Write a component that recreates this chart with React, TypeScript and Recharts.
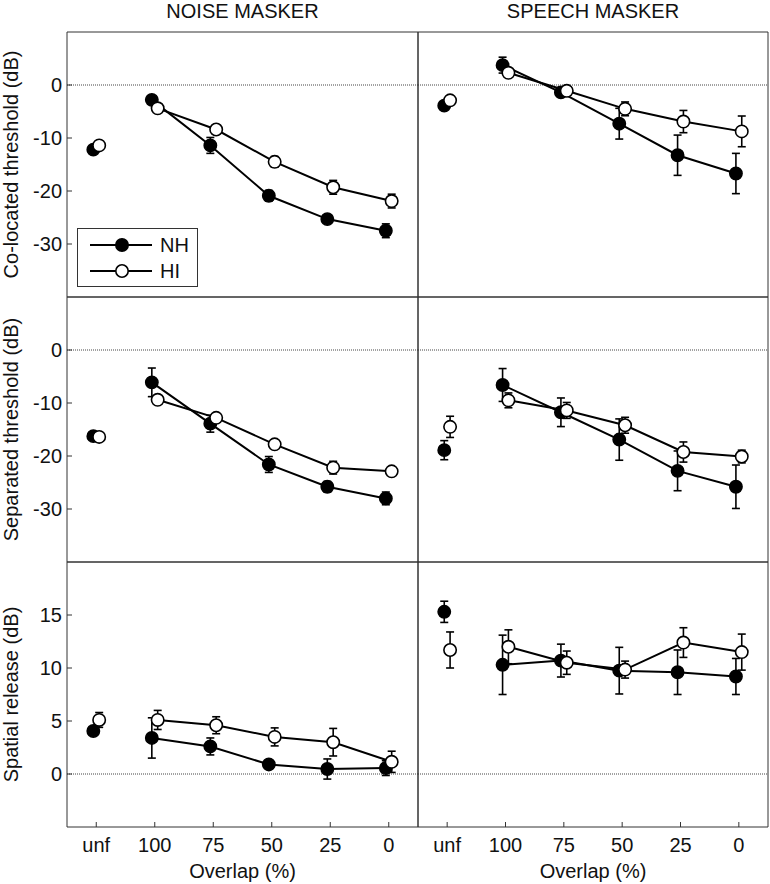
import React from 'react';
import { ScatterChart, Scatter, XAxis, YAxis, ReferenceLine, ErrorBar, Legend, Label } from 'recharts';

const FONT = '"Liberation Sans", Arial, Helvetica, sans-serif';
const W = 770;
const H = 884;

// ---------- categories / ticks / labels ----------
const categories = ['unf', '100', '75', '50', '25', '0'];
const xTicks = [0, 1, 2, 3, 4, 5];
const seriesNames = ['NH', 'HI'];
const columnTitles = ['NOISE MASKER', 'SPEECH MASKER'];
const rowLabels = ['Co-located threshold (dB)', 'Separated threshold (dB)', 'Spatial release (dB)'];
const xAxisTitle = 'Overlap (%)';
const thresholdTicks = [-30, -20, -10, 0];
const releaseTicks = [0, 5, 10, 15];

// ---------- data (order: unf, 100, 75, 50, 25, 0) ----------
// Noise masker, co-located
const noiseColNH = [-12.2, -2.8, -11.4, -20.9, -25.3, -27.5];
const noiseColNHErr = [0.4, 0.5, 1.5, 1.0, 0.7, 1.3];
const noiseColHI = [-11.4, -4.4, -8.4, -14.5, -19.3, -21.9];
const noiseColHIErr = [0.4, 0.5, 0.8, 1.0, 1.3, 1.3];
// Speech masker, co-located
const speechColNH = [-3.9, 3.75, -1.4, -7.3, -13.25, -16.7];
const speechColNHErr = [0.4, 1.5, 0.8, 2.9, 3.8, 3.8];
const speechColHI = [-2.9, 2.3, -1.1, -4.5, -6.9, -8.75];
const speechColHIErr = [0.4, 0.5, 0.6, 1.3, 2.1, 2.9];
// Noise masker, separated
const noiseSepNH = [-16.25, -6.1, -13.9, -21.6, -25.8, -28.0];
const noiseSepNHErr = [0.4, 2.7, 1.6, 1.5, 1.0, 1.2];
const noiseSepHI = [-16.4, -9.4, -12.8, -17.8, -22.2, -22.9];
const noiseSepHIErr = [0.4, 0.5, 0.6, 0.6, 1.2, 0.5];
// Speech masker, separated
const speechSepNH = [-18.9, -6.6, -11.75, -16.9, -22.8, -25.8];
const speechSepNHErr = [1.8, 3.1, 2.7, 3.9, 3.75, 4.1];
const speechSepHI = [-14.5, -9.5, -11.4, -14.2, -19.25, -20.1];
const speechSepHIErr = [2.0, 1.4, 1.5, 1.5, 1.9, 1.2];
// Noise masker, spatial release
const noiseRelNH = [4.06, 3.4, 2.6, 0.9, 0.47, 0.56];
const noiseRelNHErr = [0.3, 1.9, 0.8, 0.4, 0.95, 0.7];
const noiseRelHI = [5.1, 5.1, 4.6, 3.5, 3.0, 1.15];
const noiseRelHIErr = [0.7, 0.9, 0.8, 0.85, 1.3, 1.0];
// Speech masker, spatial release
const speechRelNH = [15.3, 10.3, 10.7, 9.75, 9.6, 9.2];
const speechRelNHErr = [1.0, 2.8, 1.55, 2.2, 2.1, 1.7];
const speechRelHI = [11.7, 12.0, 10.5, 9.85, 12.4, 11.5];
const speechRelHIErr = [1.7, 1.6, 1.1, 0.8, 1.4, 1.7];

// ---------- layout ----------
const COLS: [number, number][] = [[67, 418], [418, 768]];
const ROWS: [number, number][] = [[32, 297], [297, 562], [562, 827]];
const OFFSET = 0.05;

type PanelData = { nh: number[]; nhErr: number[]; hi: number[]; hiErr: number[] };
const panels: PanelData[][] = [
  [
    { nh: noiseColNH, nhErr: noiseColNHErr, hi: noiseColHI, hiErr: noiseColHIErr },
    { nh: speechColNH, nhErr: speechColNHErr, hi: speechColHI, hiErr: speechColHIErr },
  ],
  [
    { nh: noiseSepNH, nhErr: noiseSepNHErr, hi: noiseSepHI, hiErr: noiseSepHIErr },
    { nh: speechSepNH, nhErr: speechSepNHErr, hi: speechSepHI, hiErr: speechSepHIErr },
  ],
  [
    { nh: noiseRelNH, nhErr: noiseRelNHErr, hi: noiseRelHI, hiErr: noiseRelHIErr },
    { nh: speechRelNH, nhErr: speechRelNHErr, hi: speechRelHI, hiErr: speechRelHIErr },
  ],
];

const toPoints = (vals: number[], errs: number[], off: number, from: number, to: number) =>
  vals.slice(from, to).map((v, k) => ({ x: from + k + off, y: v, e: errs[from + k] }));

const filledDot = (p: any) => (
  <circle cx={p.cx} cy={p.cy} r={6.2} fill="#000" stroke="#000" strokeWidth={1.5} />
);
const openDot = (p: any) => (
  <circle cx={p.cx} cy={p.cy} r={6.2} fill="#fff" stroke="#000" strokeWidth={1.6} />
);

const RotatedLabel = (props: any) => {
  const vb = props.viewBox || { x: 66, y: 0, width: 1, height: 0 };
  const cx = vb.x - 55;
  const cy = vb.y + vb.height / 2;
  return (
    <text
      x={cx}
      y={cy}
      transform={`rotate(-90, ${cx}, ${cy})`}
      textAnchor="middle"
      dominantBaseline="central"
      fontSize={20}
      fontFamily={FONT}
      fill="#111"
    >
      {props.value}
    </text>
  );
};

const LegendBox = () => (
  <svg width={122} height={60} style={{ display: 'block' }}>
    <rect x={0.5} y={0.5} width={120} height={58} fill="#fff" stroke="#333" strokeWidth={1} />
    {seriesNames.map((name, i) => {
      const cy = 17 + i * 26;
      return (
        <g key={name}>
          <line x1={13} x2={75} y1={cy} y2={cy} stroke="#000" strokeWidth={1.8} />
          <circle cx={45} cy={cy} r={6.2} fill={i === 0 ? '#000' : '#fff'} stroke="#000" strokeWidth={1.6} />
          <text x={83} y={cy + 7} fontSize={20} fontFamily={FONT} fill="#111">
            {name}
          </text>
        </g>
      );
    })}
  </svg>
);

const tickStyle = { fontSize: 20, fill: '#111', fontFamily: FONT };

function Panel({ row, col }: { row: number; col: number }) {
  const [x0, x1] = COLS[col];
  const [y0, y1] = ROWS[row];
  const isBottom = row === 2;
  const isLeft = col === 0;
  const yDomain = row === 2 ? [-5, 20] : [-40, 10];
  const yTicks = row === 2 ? releaseTicks : thresholdTicks;
  const d = panels[row][col];

  const nhUnf = toPoints(d.nh, d.nhErr, -OFFSET, 0, 1);
  const nhMain = toPoints(d.nh, d.nhErr, -OFFSET, 1, 6);
  const hiUnf = toPoints(d.hi, d.hiErr, OFFSET, 0, 1);
  const hiMain = toPoints(d.hi, d.hiErr, OFFSET, 1, 6);

  const eb = <ErrorBar dataKey="e" direction="y" width={4} stroke="#000" strokeWidth={1.6} />;

  return (
    <div style={{ position: 'absolute', left: 0, top: 0 }}>
      <ScatterChart
        width={W}
        height={H}
        margin={{ top: y0 - 1, left: x0 - 1, right: W - x1 - 1, bottom: H - y1 - 1 }}
      >
        <XAxis
          xAxisId="b"
          dataKey="x"
          type="number"
          orientation="bottom"
          domain={[-0.5, 5.5]}
          allowDataOverflow
          ticks={xTicks}
          interval={0}
          height={1}
          tickSize={-5}
          tickMargin={isBottom ? 16 : 0}
          tick={isBottom ? tickStyle : false}
          tickFormatter={(v: number) => categories[v]}
          stroke="#333"
        >
          {isBottom && (
            <Label value={xAxisTitle} position="bottom" offset={36} fontSize={20} fontFamily={FONT} fill="#111" />
          )}
        </XAxis>
        <XAxis
          xAxisId="t"
          type="number"
          orientation="top"
          domain={[-0.5, 5.5]}
          allowDataOverflow
          ticks={xTicks}
          interval={0}
          height={1}
          tickSize={-5}
          tick={false}
          stroke="#333"
        >
          {row === 0 && (
            <Label value={columnTitles[col]} position="top" offset={13} fontSize={20} fontFamily={FONT} fill="#111" />
          )}
        </XAxis>
        <YAxis
          yAxisId="l"
          dataKey="y"
          type="number"
          orientation="left"
          domain={yDomain}
          allowDataOverflow
          ticks={yTicks}
          interval={0}
          width={1}
          tickSize={-5}
          tickMargin={10}
          tick={isLeft ? tickStyle : false}
          stroke="#333"
        >
          {isLeft && <Label value={rowLabels[row]} content={<RotatedLabel />} />}
        </YAxis>
        <YAxis
          yAxisId="r"
          type="number"
          orientation="right"
          domain={yDomain}
          allowDataOverflow
          ticks={yTicks}
          interval={0}
          width={1}
          tickSize={-5}
          tick={false}
          stroke="#333"
        />
        <ReferenceLine xAxisId="b" yAxisId="l" y={0} stroke="#444" strokeDasharray="1 1" strokeWidth={1} />
        <Scatter xAxisId="b" yAxisId="l" name="NH unf" data={nhUnf} shape={filledDot} isAnimationActive={false}>
          {eb}
        </Scatter>
        <Scatter
          xAxisId="b"
          yAxisId="l"
          name={seriesNames[0]}
          data={nhMain}
          line={{ stroke: '#000', strokeWidth: 2 }}
          lineType="joint"
          shape={filledDot}
          isAnimationActive={false}
        >
          {eb}
        </Scatter>
        <Scatter xAxisId="b" yAxisId="l" name="HI unf" data={hiUnf} shape={openDot} isAnimationActive={false}>
          {eb}
        </Scatter>
        <Scatter
          xAxisId="b"
          yAxisId="l"
          name={seriesNames[1]}
          data={hiMain}
          line={{ stroke: '#000', strokeWidth: 2 }}
          lineType="joint"
          shape={openDot}
          isAnimationActive={false}
        >
          {eb}
        </Scatter>
        {row === 0 && col === 0 && (
          <Legend
            layout="horizontal"
            verticalAlign="middle"
            align="center"
            wrapperStyle={{ left: 77, top: 228, width: 122, height: 60 }}
            content={() => <LegendBox />}
          />
        )}
      </ScatterChart>
    </div>
  );
}

export default function App() {
  return (
    <div style={{ position: 'absolute', left: 0, top: 0, width: W, height: H, background: '#fff', fontFamily: FONT }}>
      {ROWS.map((_, r) =>
        COLS.map((__, c) => <Panel key={`${r}-${c}`} row={r} col={c} />)
      )}
    </div>
  );
}
